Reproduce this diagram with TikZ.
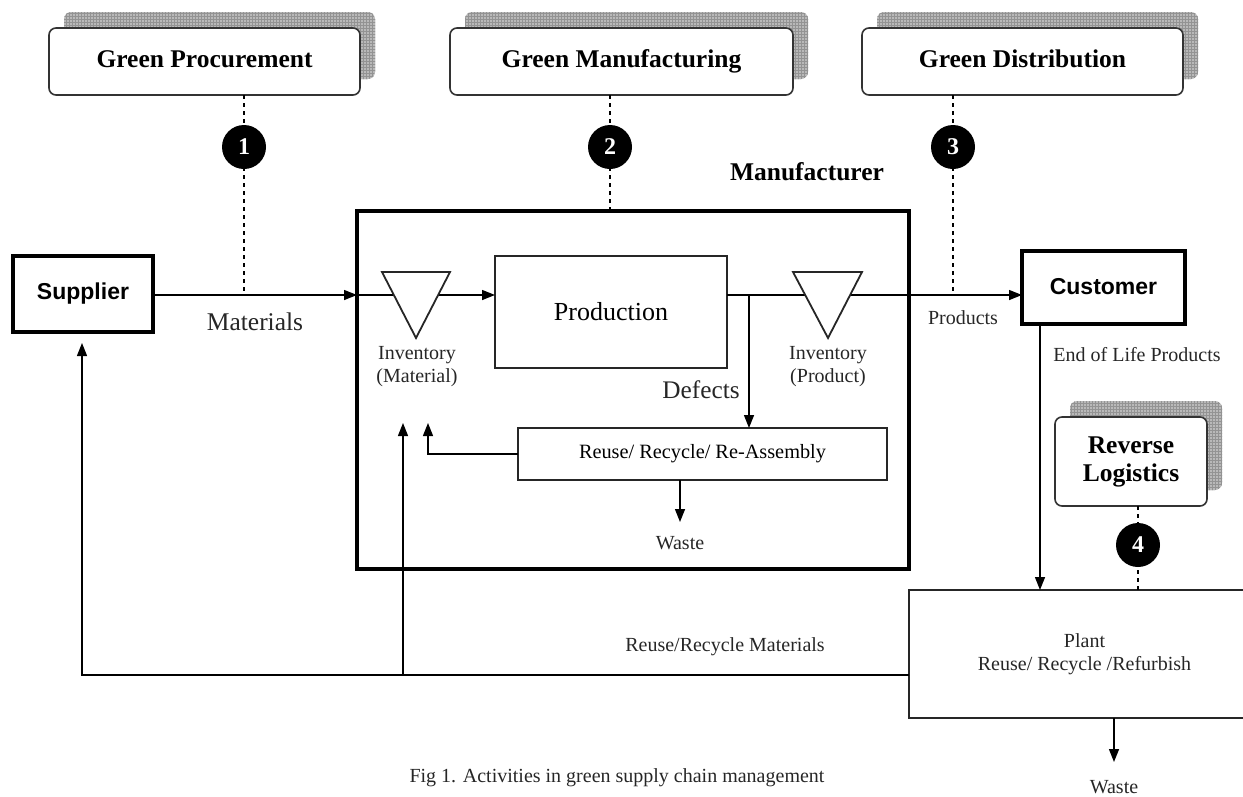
\documentclass[tikz,border=0pt]{standalone}
\usepackage{fontspec}
\setmainfont{Liberation Serif}
\newfontfamily\sansb{Liberation Sans}
\usetikzlibrary{arrows.meta,patterns,shadows,calc}
\begin{document}
\begin{tikzpicture}[x=1pt,y=-1pt,
  every node/.style={inner sep=0pt,outer sep=0pt},
  gridshadow/.style={general shadow={fill=gray!55,shadow xshift=15pt,shadow yshift=16pt},
                     general shadow={pattern=grid,pattern color=gray!85,shadow xshift=15pt,shadow yshift=16pt}},
  gbox/.style={draw=black!80,line width=1.6pt,rounded corners=7pt,fill=white,gridshadow,
               minimum width=#1,minimum height=67pt,font=\fontsize{25.5}{28}\selectfont\bfseries},
  oneline/.style={text height=17pt,text depth=5pt},
  numc/.style={circle,fill=black,minimum size=44pt,text=white,font=\fontsize{24}{24}\selectfont\bfseries},
  thickbox/.style={draw,line width=4pt},
  plainbox/.style={draw=black!85,line width=1.4pt},
  lbl/.style={font=\fontsize{20}{23}\selectfont,align=center,text=black!85},
  flow/.style={line width=1.4pt,-{Triangle[length=13pt,width=10pt]}},
  dashln/.style={line width=1.3pt,dash pattern=on 4pt off 4pt},
  tri/.style={draw=black!85,line width=1.8pt,fill=white}
]
\useasboundingbox (0,0) rectangle (1243,796);
\clip (0,0) rectangle (1243,796);

% top boxes
\node[gbox=311pt,oneline] (gp) at (204.5,61.5) {Green Procurement};
\node[gbox=343pt,oneline] (gm) at (621.5,61.5) {Green Manufacturing};
\node[gbox=321pt,oneline] (gd) at (1022.5,61.5) {Green Distribution};

% main boxes
\node[thickbox,minimum width=140pt,minimum height=76pt,font=\sansb\fontsize{23}{23}\selectfont\bfseries] (sup) at (83,294) {Supplier};
\node[thickbox,minimum width=163pt,minimum height=73pt,font=\sansb\fontsize{23}{23}\selectfont\bfseries] (cus) at (1103.5,287) {Customer};
\node[thickbox,minimum width=552pt,minimum height=358pt] (mfg) at (633,390) {};
\node[font=\fontsize{25.5}{25.5}\selectfont\bfseries] (mlab) at (807,172) {Manufacturer};
\node[plainbox,minimum width=232pt,minimum height=112pt,font=\fontsize{26}{26}\selectfont] (prod) at (611,312) {Production};
\node[plainbox,minimum width=369pt,minimum height=52pt,font=\fontsize{20.3}{20.3}\selectfont] (reuse) at (702.5,454) {Reuse/ Recycle/ Re-Assembly};
\node[plainbox,minimum width=351pt,minimum height=128pt,lbl] (plant) at (1084.5,654) {Plant\\Reuse/ Recycle /Refurbish};

% reverse logistics
\node[gbox=152pt,minimum height=89pt,align=center,font=\fontsize{25.5}{28}\selectfont\bfseries] (rl) at (1131,461.5) {Reverse\\Logistics};

% coordinates of the flow lines
\coordinate (flowy) at (0,295);
\coordinate (retY) at (0,675);
\coordinate (inA) at (357,295);
\coordinate (defx) at (749,295);
\coordinate (upA) at (403,423);
\coordinate (upB) at (428,423);
\coordinate (retL) at (82,343);
\coordinate (wst1) at (680,522);
\coordinate (wst2) at (1114,762);
\coordinate (eol) at (1040,0);

% dashed links to activity boxes
\draw[dashln] (gp.south -| 244,0) -- (244,295);
\draw[dashln] (gm.south -| 610,0) -- (mfg.north -| 610,0);
\draw[dashln] (gd.south -| 953,0) -- (953,295);
\draw[dashln] (rl.south -| 1138,0) -- (plant.north -| 1138,0);
\node[numc] (n1) at (244,147) {1};
\node[numc] (n2) at (610,147) {2};
\node[numc] (n3) at (953,147) {3};
\node[numc] (n4) at (1138,545) {4};

% main flow
\draw[flow] (sup.east |- flowy) -- (inA);
\draw[flow] (inA) -- (prod.west |- flowy);
\draw[flow] (prod.east |- flowy) -- (cus.west |- flowy);
\draw[flow] (defx) -- (reuse.north -| defx);
\draw[flow] (reuse.west) -| (upB);
\draw[flow] (reuse.south -| wst1) -- (wst1);
\draw[flow] (cus.south -| eol) -- (plant.north -| eol);
\draw[flow] (plant.west |- retY) -| (retL);
\draw[flow] (upA |- retY) -- (upA);
\draw[flow] (plant.south -| wst2) -- (wst2);

% inventory triangles
\draw[tri] (382,272) coordinate (tmA) -- (450,272) -- (416,338) -- cycle;
\draw[tri] (793,272) coordinate (tpA) -- (862,272) -- (828,338) -- cycle;

% labels
\node[lbl,font=\fontsize{25.5}{25.5}\selectfont] (lmat) at (255,322) {Materials};
\node[lbl,font=\fontsize{20}{23}\selectfont] (linvm) at (417,367) {Inventory\\(Material)};
\node[lbl,font=\fontsize{20}{23}\selectfont] (linvp) at (828,367) {Inventory\\(Product)};
\node[lbl,font=\fontsize{25.3}{25.3}\selectfont] (ldef) at (701,390) {Defects};
\node[lbl] (lw1) at (680,543) {Waste};
\node[lbl] (lprod) at (963,318) {Products};
\node[lbl] (leol) at (1137,355) {End of Life Products};
\node[lbl] (lrrm) at (725,647) {Reuse/Recycle Materials};
\node[lbl] (lw2) at (1114,787) {Waste};
\node[lbl] (cap) at (617,778) {Fig 1. Activities in green supply chain management};
\end{tikzpicture}
\end{document}
